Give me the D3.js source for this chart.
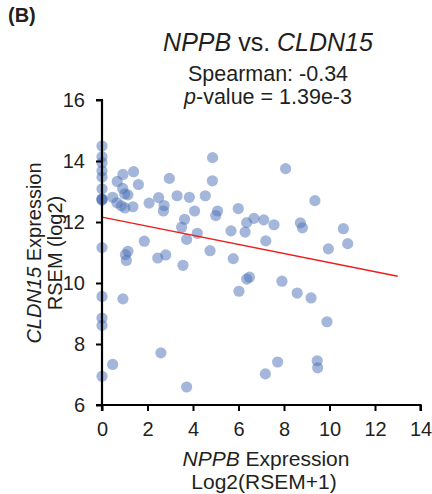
<!DOCTYPE html>
<html><head><meta charset="utf-8">
<script src="https://cdn.jsdelivr.net/npm/d3@7"></script>
<style>html,body{margin:0;padding:0;background:#fff;}svg{display:block;font-family:"Liberation Sans",Arial,sans-serif;}</style>
</head><body>
<svg id="chart" width="432" height="494"></svg>
<script>
const nppb = [0,0,0,0,0,0,0,0,0,0,0,0,0,0,
  0.92,1.39,0.67,0.91,1.60,1.00,1.14,0.47,0.66,0.85,1.01,1.36,2.07,2.49,2.73,2.70,2.96,3.30,1.86,1.14,1.03,1.07,2.45,2.80,
  4.86,4.85,3.84,4.54,4.07,3.63,3.50,3.72,4.19,5.08,5.00,5.99,5.67,6.36,6.29,6.68,7.11,7.20,4.75,5.77,3.56,
  8.07,9.36,7.56,8.72,8.81,10.61,9.95,10.80,
  6.48,6.36,6.02,7.18,3.72,
  7.91,8.58,9.19,9.89,7.72,9.46,9.48,
  0.92,0.47,2.59];
const cldn15 = [14.49,14.14,13.94,13.68,13.47,13.09,12.76,12.72,12.74,11.16,9.56,8.85,8.61,6.94,
  13.56,13.65,13.33,13.10,13.23,12.92,12.89,12.81,12.63,12.53,12.46,12.50,12.62,12.80,12.54,12.36,13.43,12.86,11.37,11.04,10.93,10.74,10.82,10.92,
  14.11,13.35,12.81,12.86,12.36,12.09,11.83,11.43,11.63,12.36,12.21,12.44,11.71,11.98,11.67,12.12,12.07,11.38,11.06,10.80,10.58,
  13.75,12.70,11.91,11.97,11.81,11.78,11.12,11.29,
  10.19,10.13,9.73,7.02,6.59,
  10.06,9.67,9.51,8.73,7.41,7.45,7.22,
  9.48,7.33,7.71];
const trendX = [0, 13];
const trendY = [12.16, 10.22];
const xTicks = [0,2,4,6,8,10,12,14];
const yTicks = [6,8,10,12,14,16];

const svg = d3.select("#chart");
const x = d3.scaleLinear().domain([0,14]).range([102,420.5]);
const y = d3.scaleLinear().domain([6,16]).range([405,100]);
const txt = "#231f20";

// points
svg.append("g").selectAll("circle").data(nppb.map((v,i)=>[v,cldn15[i]])).join("circle")
  .attr("cx", d=>x(d[0])).attr("cy", d=>y(d[1])).attr("r", 5.6)
  .attr("fill", "#4a6fb5").attr("fill-opacity", 0.5);

// trend line
svg.append("line").attr("x1", x(trendX[0])).attr("y1", y(trendY[0]))
  .attr("x2", x(trendX[1])).attr("y2", y(trendY[1]))
  .attr("stroke", "#ee1c1c").attr("stroke-width", 1.5);

// axes
const xa = svg.append("g").attr("transform", "translate(0,405)")
  .call(d3.axisBottom(x).tickValues(xTicks).tickSize(6).tickPadding(11).tickFormat(d3.format("d")));
const ya = svg.append("g").attr("transform", "translate(102,0)")
  .call(d3.axisLeft(y).tickValues(yTicks).tickSize(6).tickPadding(11).tickFormat(d3.format("d")));
[xa, ya].forEach(a => {
  a.select(".domain").attr("stroke", "#000").attr("stroke-width", 2.2);
  a.selectAll(".tick line").attr("stroke", "#000").attr("stroke-width", 2);
  a.selectAll(".tick text").attr("fill", txt).style("font-size", "20px").style("font-family", "Liberation Sans, Arial, sans-serif");
});
xa.select(".domain").attr("d", "M102,6V0H420.5V6");
ya.select(".domain").attr("d", "M-6,100H0V405H-6");

// panel label
svg.append("text").attr("x", 8).attr("y", 22).attr("font-weight", "bold").attr("font-size", 20).attr("fill", txt).text("(B)");

// title
const t = svg.append("text").attr("x", 268).attr("y", 51).attr("text-anchor", "middle").attr("font-size", 25).attr("fill", txt);
t.append("tspan").attr("font-style", "italic").text("NPPB");
t.append("tspan").text(" vs. ");
t.append("tspan").attr("font-style", "italic").text("CLDN15");

svg.append("text").attr("x", 268).attr("y", 81).attr("text-anchor", "middle").attr("font-size", 21.5).attr("fill", txt).text("Spearman: -0.34");
const p = svg.append("text").attr("x", 268).attr("y", 104).attr("text-anchor", "middle").attr("font-size", 21.5).attr("fill", txt);
p.append("tspan").attr("font-style", "italic").text("p");
p.append("tspan").text("-value = 1.39e-3");

// x label
const xl = svg.append("text").attr("x", 266).attr("y", 466).attr("text-anchor", "middle").attr("font-size", 21).attr("fill", txt);
xl.append("tspan").attr("font-style", "italic").text("NPPB");
xl.append("tspan").text(" Expression");
svg.append("text").attr("x", 264).attr("y", 489).attr("text-anchor", "middle").attr("font-size", 21).attr("fill", txt).text("Log2(RSEM+1)");

// y label
const yl = svg.append("text").attr("transform", "translate(41,253) rotate(-90)").attr("text-anchor", "middle").attr("font-size", 20).attr("fill", txt);
yl.append("tspan").attr("font-style", "italic").text("CLDN15");
yl.append("tspan").text(" Expression");
svg.append("text").attr("transform", "translate(62,253) rotate(-90)").attr("text-anchor", "middle").attr("font-size", 20).attr("fill", txt).text("RSEM (log2)");
</script>
</body></html>
